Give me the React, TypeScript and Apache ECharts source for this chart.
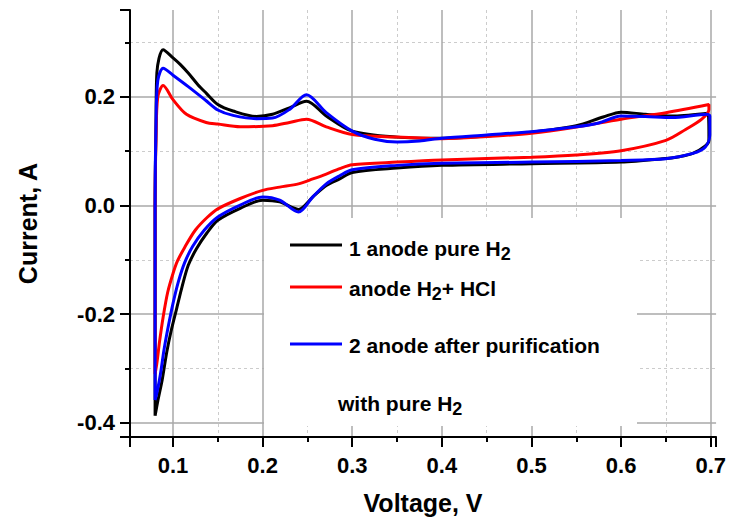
import React, { useEffect, useRef } from "react";
import * as echarts from "echarts";

// ---- data (Voltage V, Current A), each loop: anodic sweep then cathodic sweep ----
const pureH2Curve: [number, number][] = [
  [0.080, -0.387], [0.080, -0.20], [0.080, 0.00], [0.081, 0.15], [0.082, 0.245], [0.089, 0.287],
  [0.100, 0.272], [0.108, 0.260], [0.117, 0.244], [0.128, 0.222], [0.137, 0.207], [0.150, 0.186],
  [0.167, 0.174], [0.193, 0.164], [0.211, 0.168], [0.230, 0.180], [0.249, 0.192], [0.271, 0.165],
  [0.300, 0.137], [0.350, 0.126], [0.400, 0.124], [0.450, 0.128], [0.500, 0.135], [0.550, 0.147],
  [0.580, 0.163], [0.600, 0.172], [0.627, 0.168], [0.657, 0.165], [0.697, 0.170], [0.698, 0.120],
  [0.694, 0.110], [0.680, 0.096], [0.665, 0.090], [0.646, 0.086], [0.600, 0.080], [0.500, 0.077],
  [0.400, 0.074], [0.350, 0.069], [0.300, 0.061], [0.286, 0.049], [0.271, 0.037], [0.256, 0.016],
  [0.240, -0.007], [0.219, 0.007], [0.200, 0.010], [0.175, -0.005], [0.150, -0.027], [0.138, -0.050],
  [0.126, -0.080], [0.117, -0.110], [0.110, -0.150], [0.104, -0.190], [0.098, -0.230], [0.093, -0.270],
  [0.088, -0.320], [0.083, -0.360], [0.080, -0.387],
];

const hclCurve: [number, number][] = [
  [0.080, -0.310], [0.080, 0.00], [0.081, 0.12], [0.083, 0.200], [0.089, 0.221], [0.100, 0.195],
  [0.115, 0.168], [0.137, 0.153], [0.150, 0.150], [0.175, 0.145], [0.211, 0.147], [0.230, 0.153],
  [0.249, 0.159], [0.271, 0.145], [0.300, 0.131], [0.350, 0.126], [0.400, 0.123], [0.450, 0.127],
  [0.500, 0.133], [0.545, 0.143], [0.600, 0.159], [0.650, 0.171], [0.698, 0.186], [0.698, 0.177],
  [0.690, 0.159], [0.672, 0.140], [0.650, 0.120], [0.600, 0.101], [0.550, 0.093], [0.500, 0.089],
  [0.400, 0.084], [0.350, 0.080], [0.300, 0.075], [0.286, 0.068], [0.271, 0.058], [0.256, 0.049],
  [0.240, 0.040], [0.219, 0.034], [0.200, 0.028], [0.175, 0.013], [0.150, -0.006], [0.138, -0.022],
  [0.125, -0.045], [0.113, -0.077], [0.105, -0.102], [0.100, -0.125], [0.094, -0.160], [0.089, -0.205],
  [0.085, -0.250], [0.082, -0.290], [0.080, -0.310],
];

const purifiedCurve: [number, number][] = [
  [0.080, -0.358], [0.080, 0.00], [0.081, 0.15], [0.083, 0.230], [0.089, 0.253], [0.100, 0.240],
  [0.117, 0.219], [0.137, 0.193], [0.150, 0.176], [0.167, 0.166], [0.193, 0.160], [0.211, 0.161],
  [0.230, 0.177], [0.249, 0.204], [0.271, 0.171], [0.300, 0.137], [0.325, 0.122], [0.350, 0.117],
  [0.375, 0.119], [0.400, 0.124], [0.450, 0.130], [0.500, 0.136], [0.550, 0.145], [0.575, 0.152],
  [0.600, 0.165], [0.627, 0.164], [0.657, 0.162], [0.696, 0.168], [0.699, 0.165], [0.699, 0.130],
  [0.694, 0.108], [0.680, 0.096], [0.650, 0.086], [0.600, 0.083], [0.500, 0.080], [0.400, 0.078],
  [0.350, 0.074], [0.300, 0.066], [0.286, 0.055], [0.271, 0.040], [0.256, 0.016], [0.240, -0.012],
  [0.219, 0.010], [0.200, 0.016], [0.175, 0.001], [0.150, -0.021], [0.135, -0.045], [0.122, -0.075],
  [0.113, -0.105], [0.106, -0.140], [0.100, -0.180], [0.095, -0.220], [0.090, -0.265], [0.086, -0.310],
  [0.082, -0.345], [0.080, -0.358],
];

const seriesNames = ["1 anode pure H2", "anode H2+ HCl", "2 anode after purification"];
const legendRich = ["1 anode pure H{s|2}", "anode H{s|2}+ HCl", "2 anode after purification"];
const legendNote = "with pure H{s|2}";
const seriesColors = ["#000000", "#ff0000", "#0000ff"];

const FONT = '"Liberation Sans", Arial, Helvetica, sans-serif';

export default function App() {
  const ref = useRef<HTMLDivElement>(null);

  useEffect(() => {
    document.body.style.margin = "0";
    if (!ref.current) return;
    const chart = echarts.init(ref.current, undefined, { renderer: "svg" });

    const axisCommon = {
      type: "value" as const,
      axisLine: { show: true, onZero: false, lineStyle: { color: "#000", width: 2 } },
      axisTick: { show: true, inside: false, length: 10, lineStyle: { color: "#000", width: 2 } },
      minorTick: { show: true, splitNumber: 2, length: 5, lineStyle: { color: "#000", width: 2 } },
      splitLine: {
        show: true,
        showMinLine: false,
        showMaxLine: false,
        lineStyle: { color: "#a8a8a8", width: 1.5, type: "solid" as const },
      },
      minorSplitLine: { show: true, lineStyle: { color: "#cccccc", width: 1, type: [3, 3] as any } },
      nameLocation: "middle" as const,
      nameTextStyle: { fontFamily: FONT, fontWeight: "bold" as const, fontSize: 25, color: "#000" },
    };

    const labelStyle = {
      fontFamily: FONT,
      fontWeight: "bold" as const,
      fontSize: 22,
      color: "#000",
      showMinLabel: false,
      showMaxLabel: false,
      formatter: (v: number) => v.toFixed(1),
    };

    const rich = {
      s: { fontFamily: FONT, fontWeight: "bold", fontSize: 18, fill: "#000", verticalAlign: "bottom" },
    };
    const textBase = {
      fontFamily: FONT,
      fontWeight: "bold",
      fontSize: 21,
      lineHeight: 30,
      fill: "#000",
      verticalAlign: "middle",
      align: "left",
      rich,
    };
    const legendLineY = [245, 287, 344];
    const legendTextY = [248, 288, 345];

    const graphic: any[] = [
      {
        type: "rect",
        z: 1,
        silent: true,
        shape: { x: 264, y: 218, width: 373, height: 208 },
        style: { fill: "#ffffff" },
      },
    ];
    seriesNames.forEach((_, i) => {
      graphic.push({
        type: "line",
        z: 5,
        silent: true,
        shape: { x1: 290, y1: legendLineY[i], x2: 342, y2: legendLineY[i] },
        style: { stroke: seriesColors[i], lineWidth: 3 },
      });
      graphic.push({
        type: "text",
        z: 5,
        silent: true,
        x: 349,
        y: legendTextY[i],
        style: { ...textBase, text: legendRich[i] },
      });
    });
    graphic.push({
      type: "text",
      z: 5,
      silent: true,
      x: 338,
      y: 403,
      style: { ...textBase, text: legendNote },
    });

    const curves = [pureH2Curve, hclCurve, purifiedCurve];

    chart.setOption({
      animation: false,
      backgroundColor: "#ffffff",
      grid: { left: 130, right: 12, top: 10, bottom: 80, containLabel: false },
      xAxis: {
        ...axisCommon,
        min: 0.052,
        max: 0.706,
        splitNumber: 7,
        name: "Voltage, V",
        nameGap: 53,
        axisLabel: { ...labelStyle, margin: 17 },
      },
      yAxis: {
        ...axisCommon,
        min: -0.426,
        max: 0.36,
        splitNumber: 4,
        name: "Current, A",
        nameGap: 90,
        axisLabel: { ...labelStyle, margin: 15 },
      },
      graphic,
      series: curves.map((data, i) => ({
        type: "line",
        name: seriesNames[i],
        data,
        symbol: "none",
        showSymbol: false,
        smooth: 0.3,
        silent: true,
        z: 2 + i,
        lineStyle: { color: seriesColors[i], width: 3 },
        itemStyle: { color: seriesColors[i] },
      })),
    });

    return () => chart.dispose();
  }, []);

  return (
    <div
      ref={ref}
      style={{ position: "fixed", left: 0, top: 0, width: 729, height: 520, background: "#fff" }}
    />
  );
}
